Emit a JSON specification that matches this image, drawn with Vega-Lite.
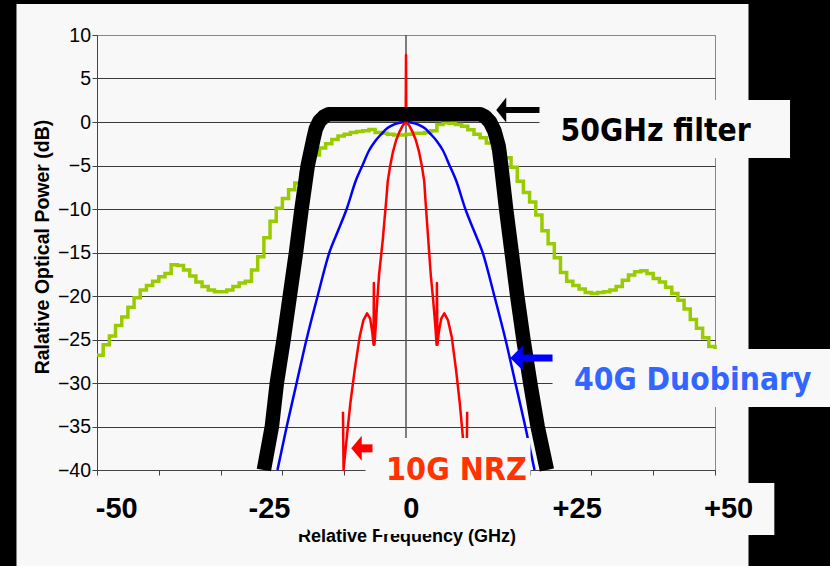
{
  "$schema": "https://vega.github.io/schema/vega-lite/v6.json",
  "width": 618,
  "height": 435,
  "autosize": {"type": "none"},
  "padding": {"left": 97, "top": 35, "right": 115, "bottom": 96},
  "background": "#f8f8f8",
  "config": {"view": {"stroke": "#888888", "strokeWidth": 1}},
  "datasets": {
    "frame": [
      {"f1": -75, "f2": -63.03, "p1": -60, "p2": 20},
      {"f1": -75, "f2": 80, "p1": 13.56, "p2": 20},
      {"f1": 55.42, "f2": 80, "p1": -60, "p2": 20}
    ],
    "boxes": [
      {"f1": 21.6, "f2": 62.14, "p1": 2.53, "p2": -4.14},
      {"f1": 23.71, "f2": 80, "p1": -26.09, "p2": -32.76},
      {"f1": -6.55, "f2": 20.15, "p1": -36.32, "p2": -42.3},
      {"f1": -26.94, "f2": -15.94, "p1": -41.49, "p2": -47.36},
      {"f1": -4.29, "f2": 4.13, "p1": -41.49, "p2": -47.36},
      {"f1": 45.87, "f2": 59.6, "p1": -41.49, "p2": -47.47}
    ],
    "green": [
      {"f": -50, "p": -26.8}, {"f": -49, "p": -25.6}, {"f": -48, "p": -24.6}, {"f": -47, "p": -23.4},
      {"f": -46, "p": -22.4}, {"f": -45, "p": -21.3}, {"f": -44, "p": -20.2}, {"f": -43, "p": -19.3},
      {"f": -42, "p": -18.8}, {"f": -41, "p": -18.3}, {"f": -40, "p": -17.8}, {"f": -39, "p": -17.4},
      {"f": -38, "p": -16.4}, {"f": -37, "p": -16.5}, {"f": -36, "p": -17.0}, {"f": -35, "p": -17.7},
      {"f": -34, "p": -18.4}, {"f": -33, "p": -18.9}, {"f": -32, "p": -19.3}, {"f": -31, "p": -19.5},
      {"f": -30, "p": -19.5}, {"f": -29, "p": -19.3}, {"f": -28, "p": -18.9}, {"f": -27, "p": -18.5},
      {"f": -26, "p": -18.3}, {"f": -25, "p": -17.0}, {"f": -24, "p": -15.5}, {"f": -23, "p": -13.3},
      {"f": -22, "p": -11.4}, {"f": -21, "p": -9.9}, {"f": -20, "p": -8.8}, {"f": -19, "p": -7.8},
      {"f": -18, "p": -7.0}, {"f": -17, "p": -5.8}, {"f": -16, "p": -4.6}, {"f": -15, "p": -3.8},
      {"f": -14, "p": -3.0}, {"f": -13, "p": -2.5}, {"f": -12, "p": -2.0}, {"f": -11, "p": -1.6},
      {"f": -10, "p": -1.4}, {"f": -9, "p": -1.2}, {"f": -8, "p": -1.1}, {"f": -7, "p": -1.0},
      {"f": -6, "p": -0.85}, {"f": -5, "p": -1.2}, {"f": -4, "p": -1.3}, {"f": -3, "p": -1.4},
      {"f": -2, "p": -1.5}, {"f": -1, "p": -1.5}, {"f": 0, "p": -1.4}, {"f": 1, "p": -1.3},
      {"f": 2, "p": -1.3}, {"f": 3, "p": -1.2}, {"f": 4, "p": -1.0}, {"f": 5, "p": -0.3},
      {"f": 6, "p": -0.1}, {"f": 7, "p": -0.15}, {"f": 8, "p": -0.3}, {"f": 9, "p": -0.5},
      {"f": 10, "p": -0.9}, {"f": 11, "p": -1.4}, {"f": 12, "p": -1.8}, {"f": 13, "p": -2.4},
      {"f": 14, "p": -3.0}, {"f": 15, "p": -3.5}, {"f": 16, "p": -4.1}, {"f": 17, "p": -5.2},
      {"f": 18, "p": -6.8}, {"f": 19, "p": -8.1}, {"f": 20, "p": -9.2}, {"f": 21, "p": -10.7},
      {"f": 22, "p": -12.5}, {"f": 23, "p": -14.0}, {"f": 24, "p": -15.6}, {"f": 25, "p": -17.3},
      {"f": 26, "p": -18.3}, {"f": 27, "p": -18.8}, {"f": 28, "p": -19.2}, {"f": 29, "p": -19.6},
      {"f": 30, "p": -19.7}, {"f": 31, "p": -19.6}, {"f": 32, "p": -19.5}, {"f": 33, "p": -19.3},
      {"f": 34, "p": -18.9}, {"f": 35, "p": -18.2}, {"f": 36, "p": -17.6}, {"f": 37, "p": -17.2},
      {"f": 38, "p": -17.1}, {"f": 39, "p": -17.4}, {"f": 40, "p": -18.0}, {"f": 41, "p": -18.4},
      {"f": 42, "p": -19.0}, {"f": 43, "p": -19.7}, {"f": 44, "p": -20.5}, {"f": 45, "p": -21.5},
      {"f": 46, "p": -22.7}, {"f": 47, "p": -23.7}, {"f": 48, "p": -24.8}, {"f": 49, "p": -25.8},
      {"f": 50, "p": -26.8}
    ],
    "blue": [
      {"f": -20.8, "p": -40}, {"f": -19.3, "p": -35}, {"f": -17.7, "p": -30}, {"f": -16.1, "p": -25},
      {"f": -14.3, "p": -20}, {"f": -12.4, "p": -15}, {"f": -11.0, "p": -12.5}, {"f": -9.6, "p": -10},
      {"f": -8.1, "p": -6.7}, {"f": -7.0, "p": -4.9}, {"f": -6.0, "p": -3.3}, {"f": -5.0, "p": -2.2},
      {"f": -4.0, "p": -1.4}, {"f": -3.0, "p": -0.7}, {"f": -2.0, "p": -0.3}, {"f": -1.0, "p": -0.08},
      {"f": 0, "p": 0},
      {"f": 1.0, "p": -0.08}, {"f": 2.0, "p": -0.3}, {"f": 3.0, "p": -0.7}, {"f": 4.0, "p": -1.4},
      {"f": 5.0, "p": -2.2}, {"f": 6.0, "p": -3.3}, {"f": 7.0, "p": -4.9}, {"f": 8.1, "p": -6.7},
      {"f": 9.6, "p": -10}, {"f": 11.0, "p": -12.5}, {"f": 12.4, "p": -15}, {"f": 14.3, "p": -20},
      {"f": 16.1, "p": -25}, {"f": 17.7, "p": -30}, {"f": 19.3, "p": -35}, {"f": 20.8, "p": -40}
    ],
    "red": [
      {"o": 1, "f": -10.2, "p": -33.3}, {"o": 2, "f": -10.1, "p": -40}, {"o": 3, "f": -9.9, "p": -38.5},
      {"o": 4, "f": -9.4, "p": -35}, {"o": 5, "f": -9.0, "p": -32.3}, {"o": 6, "f": -8.3, "p": -28.5},
      {"o": 7, "f": -7.5, "p": -24.7}, {"o": 8, "f": -6.9, "p": -22.8}, {"o": 9, "f": -6.3, "p": -22.0},
      {"o": 10, "f": -5.8, "p": -22.6}, {"o": 11, "f": -5.45, "p": -24.2}, {"o": 12, "f": -5.25, "p": -25.6},
      {"o": 13, "f": -5.2, "p": -18.5}, {"o": 14, "f": -5.1, "p": -25.6}, {"o": 15, "f": -4.9, "p": -23.5},
      {"o": 16, "f": -4.65, "p": -20.5}, {"o": 17, "f": -4.35, "p": -17.5}, {"o": 18, "f": -4.05, "p": -15.5},
      {"o": 19, "f": -3.75, "p": -13.5}, {"o": 20, "f": -3.45, "p": -11}, {"o": 21, "f": -3.2, "p": -9},
      {"o": 22, "f": -2.95, "p": -6.8}, {"o": 23, "f": -2.55, "p": -5}, {"o": 24, "f": -2.1, "p": -3.4},
      {"o": 25, "f": -1.6, "p": -2.1}, {"o": 26, "f": -1.1, "p": -1.2}, {"o": 27, "f": -0.6, "p": -0.5},
      {"o": 28, "f": -0.05, "p": 0}, {"o": 29, "f": 0, "p": 7.7}, {"o": 30, "f": 0.05, "p": 0},
      {"o": 31, "f": 0.6, "p": -0.5}, {"o": 32, "f": 1.1, "p": -1.2}, {"o": 33, "f": 1.6, "p": -2.1},
      {"o": 34, "f": 2.1, "p": -3.4}, {"o": 35, "f": 2.55, "p": -5}, {"o": 36, "f": 2.95, "p": -6.8},
      {"o": 37, "f": 3.15, "p": -9}, {"o": 38, "f": 3.35, "p": -11}, {"o": 39, "f": 3.6, "p": -13.5},
      {"o": 40, "f": 3.8, "p": -15.5}, {"o": 41, "f": 4.0, "p": -17.5}, {"o": 42, "f": 4.4, "p": -20.5},
      {"o": 43, "f": 4.75, "p": -23.5}, {"o": 44, "f": 4.95, "p": -25.6}, {"o": 45, "f": 5.0, "p": -18.5},
      {"o": 46, "f": 5.1, "p": -25.6}, {"o": 47, "f": 5.3, "p": -24.2}, {"o": 48, "f": 5.7, "p": -22.6},
      {"o": 49, "f": 6.2, "p": -22.0}, {"o": 50, "f": 6.8, "p": -22.8}, {"o": 51, "f": 7.4, "p": -24.7},
      {"o": 52, "f": 8.1, "p": -28.5}, {"o": 53, "f": 8.7, "p": -32.3}, {"o": 54, "f": 9.2, "p": -36.2},
      {"o": 55, "f": 9.5, "p": -40}, {"o": 56, "f": 9.8, "p": -40}, {"o": 57, "f": 9.9, "p": -33.3}
    ],
    "filter": [
      {"f": -23.0, "p": -40}, {"f": -21.7, "p": -35}, {"f": -20.9, "p": -30}, {"f": -19.8, "p": -25},
      {"f": -18.8, "p": -20}, {"f": -17.8, "p": -15}, {"f": -16.9, "p": -10}, {"f": -15.9, "p": -5},
      {"f": -15.0, "p": -2.0}, {"f": -14.6, "p": -0.8}, {"f": -14.0, "p": 0.1}, {"f": -13.3, "p": 0.6},
      {"f": -12.5, "p": 0.9}, {"f": 12.0, "p": 0.9}, {"f": 12.8, "p": 0.6}, {"f": 13.6, "p": 0.0},
      {"f": 14.3, "p": -1.0}, {"f": 15.0, "p": -2.8}, {"f": 15.4, "p": -5}, {"f": 16.2, "p": -10},
      {"f": 17.1, "p": -15}, {"f": 18.0, "p": -20}, {"f": 19.0, "p": -25}, {"f": 20.1, "p": -30},
      {"f": 21.3, "p": -35}, {"f": 22.8, "p": -40}
    ],
    "ticklabels": [
      {"t": "-50", "f": -46.8}, {"t": "-25", "f": -22.1}, {"t": "0", "f": 0.84},
      {"t": "+25", "f": 27.7}, {"t": "+50", "f": 52.2}
    ]
  },
  "layer": [
    {
      "data": {"name": "frame"},
      "mark": {"type": "rect", "fill": "#000000", "stroke": null},
      "encoding": {
        "x": {"field": "f1", "type": "quantitative",
          "scale": {"domain": [-50, 50], "nice": false, "zero": false},
          "axis": {"values": [-50,-45,-40,-35,-30,-25,-20,-15,-10,-5,0,5,10,15,20,25,30,35,40,45,50],
            "labels": false, "ticks": true, "tickSize": 5, "tickColor": "#444444", "tickWidth": 1,
            "domainColor": "#444444", "domainWidth": 1, "grid": false,
            "title": "Relative Frequency (GHz)", "titleFont": "Liberation Sans", "titleFontSize": 18,
            "titleFontWeight": "bold", "titleColor": "#000000", "titleX": 309.5, "titleY": 71,
            "titleBaseline": "alphabetic", "titleAlign": "center", "titleAngle": 0}},
        "x2": {"field": "f2"},
        "y": {"field": "p1", "type": "quantitative",
          "scale": {"domain": [-40, 10], "nice": false, "zero": false},
          "axis": {"values": [-40,-35,-30,-25,-20,-15,-10,-5,0,5,10],
            "grid": true, "gridColor": {"condition": {"test": "datum.value === 10", "value": "#888888"}, "value": "#3a3a3a"},
            "gridWidth": 1, "tickSize": 5, "tickColor": "#444444", "domainColor": "#444444",
            "labelFont": "Liberation Sans", "labelFontSize": 19.5, "labelColor": "#000000", "labelPadding": 1.5,
            "title": "Ralative Optical Power (dB)", "titleFont": "Liberation Sans", "titleFontSize": 19.5,
            "titleFontWeight": "bold", "titleColor": "#000000", "titleX": -48.3, "titleY": 211.5,
            "titleBaseline": "alphabetic", "titleAlign": "center", "titleAngle": -90}},
        "y2": {"field": "p2"}
      }
    },
    {
      "data": {"values": [{"f": 0, "p1": 10, "p2": -40}]},
      "mark": {"type": "rule", "color": "#555555", "strokeWidth": 1.5},
      "encoding": {
        "x": {"field": "f", "type": "quantitative"},
        "y": {"field": "p1", "type": "quantitative"},
        "y2": {"field": "p2"}
      }
    },
    {
      "data": {"name": "green"},
      "mark": {"type": "line", "color": "#99cc00", "strokeWidth": 3.5, "interpolate": "step-after"},
      "encoding": {
        "x": {"field": "f", "type": "quantitative"},
        "y": {"field": "p", "type": "quantitative"}
      }
    },
    {
      "data": {"name": "blue"},
      "mark": {"type": "line", "color": "#0000ff", "strokeWidth": 2.5, "interpolate": "monotone"},
      "encoding": {
        "x": {"field": "f", "type": "quantitative"},
        "y": {"field": "p", "type": "quantitative"}
      }
    },
    {
      "data": {"name": "red"},
      "mark": {"type": "line", "color": "#ff0000", "strokeWidth": 2.5, "strokeJoin": "round"},
      "encoding": {
        "x": {"field": "f", "type": "quantitative"},
        "y": {"field": "p", "type": "quantitative"},
        "order": {"field": "o", "type": "quantitative"}
      }
    },
    {
      "data": {"name": "filter"},
      "mark": {"type": "line", "color": "#000000", "strokeWidth": 14.5, "strokeJoin": "round", "strokeCap": "butt"},
      "encoding": {
        "x": {"field": "f", "type": "quantitative"},
        "y": {"field": "p", "type": "quantitative"}
      }
    },
    {
      "data": {"name": "boxes"},
      "mark": {"type": "rect", "fill": "#f8f8f8", "stroke": null},
      "encoding": {
        "x": {"field": "f1", "type": "quantitative"},
        "x2": {"field": "f2"},
        "y": {"field": "p1", "type": "quantitative"},
        "y2": {"field": "p2"}
      }
    },
    {
      "data": {"values": [{"f1": 15.41, "f2": 21.6, "p": 1.38}]},
      "mark": {"type": "rule", "color": "#000000", "strokeWidth": 6},
      "encoding": {
        "x": {"field": "f1", "type": "quantitative"},
        "x2": {"field": "f2"},
        "y": {"field": "p", "type": "quantitative"}
      }
    },
    {
      "data": {"values": [{"f": 15.41, "p": 1.38}]},
      "mark": {"type": "point", "shape": "M -0.4 0 L 0.4 -1 L 0.4 1 Z", "size": 625, "filled": true, "opacity": 1, "color": "#000000", "strokeWidth": 0},
      "encoding": {
        "x": {"field": "f", "type": "quantitative"},
        "y": {"field": "p", "type": "quantitative"}
      }
    },
    {
      "data": {"values": [{"f1": 17.88, "f2": 23.71, "p": -27.13}]},
      "mark": {"type": "rule", "color": "#0000ff", "strokeWidth": 7},
      "encoding": {
        "x": {"field": "f1", "type": "quantitative"},
        "x2": {"field": "f2"},
        "y": {"field": "p", "type": "quantitative"}
      }
    },
    {
      "data": {"values": [{"f": 17.88, "p": -27.13}]},
      "mark": {"type": "point", "shape": "M -0.5 0 L 0.5 -1 L 0.5 1 Z", "size": 625, "filled": true, "opacity": 1, "color": "#0000ff", "strokeWidth": 0},
      "encoding": {
        "x": {"field": "f", "type": "quantitative"},
        "y": {"field": "p", "type": "quantitative"}
      }
    },
    {
      "data": {"values": [{"f1": -8.01, "f2": -5.42, "p": -37.51}]},
      "mark": {"type": "rule", "color": "#ff0000", "strokeWidth": 8},
      "encoding": {
        "x": {"field": "f1", "type": "quantitative"},
        "x2": {"field": "f2"},
        "y": {"field": "p", "type": "quantitative"}
      }
    },
    {
      "data": {"values": [{"f": -8.01, "p": -37.51}]},
      "mark": {"type": "point", "shape": "M -0.42 0 L 0.42 -1 L 0.42 1 Z", "size": 625, "filled": true, "opacity": 1, "color": "#ff0000", "strokeWidth": 0},
      "encoding": {
        "x": {"field": "f", "type": "quantitative"},
        "y": {"field": "p", "type": "quantitative"}
      }
    },
    {
      "data": {"values": [{"t": "50GHz filter", "f": 40.4, "p": -2.18}]},
      "mark": {"type": "text", "font": "DejaVu Sans Condensed, DejaVu Sans", "fontWeight": "bold", "fontSize": 31.5, "color": "#000000", "align": "center", "baseline": "alphabetic"},
      "encoding": {
        "x": {"field": "f", "type": "quantitative"},
        "y": {"field": "p", "type": "quantitative"},
        "text": {"field": "t"}
      }
    },
    {
      "data": {"values": [{"t": "40G Duobinary", "f": 46.4, "p": -30.77}]},
      "mark": {"type": "text", "font": "DejaVu Sans Condensed, DejaVu Sans", "fontWeight": "bold", "fontSize": 31.5, "color": "#3366ff", "align": "center", "baseline": "alphabetic"},
      "encoding": {
        "x": {"field": "f", "type": "quantitative"},
        "y": {"field": "p", "type": "quantitative"},
        "text": {"field": "t"}
      }
    },
    {
      "data": {"values": [{"t": "10G NRZ", "f": 8.17, "p": -41.15}]},
      "mark": {"type": "text", "font": "DejaVu Sans Condensed, DejaVu Sans", "fontWeight": "bold", "fontSize": 32, "color": "#ff3300", "align": "center", "baseline": "alphabetic"},
      "encoding": {
        "x": {"field": "f", "type": "quantitative"},
        "y": {"field": "p", "type": "quantitative"},
        "text": {"field": "t"}
      }
    },
    {
      "data": {"name": "ticklabels"},
      "mark": {"type": "text", "font": "Liberation Sans", "fontWeight": "bold", "fontSize": 29, "color": "#000000", "align": "center", "baseline": "alphabetic"},
      "encoding": {
        "x": {"field": "f", "type": "quantitative"},
        "y": {"datum": -45.52, "type": "quantitative"},
        "text": {"field": "t"}
      }
    }
  ]
}
